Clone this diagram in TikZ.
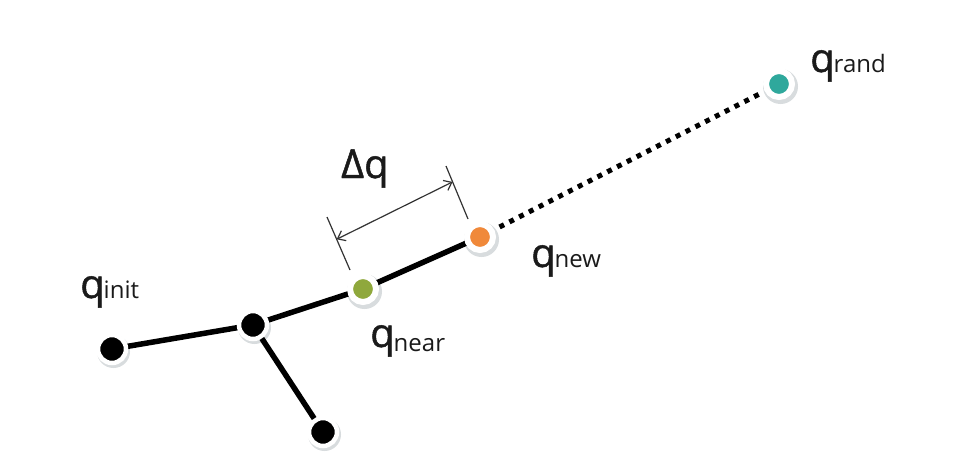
\documentclass[tikz,border=0pt]{standalone}
\usepackage{fontspec}
\setmainfont{Open Sans}
\newfontfamily\qfont{Open Sans}[FakeBold=1.2]
\usetikzlibrary{arrows.meta,calc}
\definecolor{cgreen}{HTML}{8FA83C}
\definecolor{corange}{HTML}{F0893A}
\definecolor{cteal}{HTML}{2FA89C}
\definecolor{shadowc}{HTML}{D8DCDE}
\definecolor{ink}{HTML}{1A1A1A}
\tikzset{
  vtx/.style={circle, draw=white, line width=4.5pt, minimum size=28pt, inner sep=0pt},
  cvtx/.style={circle, draw=white, line width=6pt, minimum size=26pt, inner sep=0pt},
  edge/.style={line width=5.5pt, black},
  lbl/.style={anchor=base west, inner sep=0pt, text=ink, font=\qfont\fontsize{40}{40}\selectfont},
  ext/.style={line width=1.2pt, black!80},
}
\newcommand{\shad}[2]{\fill[shadowc] (#1) ++(1.5,2.5) circle (#2);}
\newcommand{\subtxt}[1]{{\normalfont\fontsize{24}{24}\selectfont #1}}
\begin{document}
\begin{tikzpicture}[x=1pt,y=-1pt]
\useasboundingbox (0,0) rectangle (953,471);
\fill[white] (0,0) rectangle (953,471);
% coordinates
\coordinate (pinit) at (112,349);
\coordinate (pbr) at (253,325);
\coordinate (pbot) at (323,432);
\coordinate (pnear) at (363,289);
\coordinate (pnew) at (480,237);
\coordinate (prand) at (779,84);
% shadows
\shad{pinit}{16.5}
\shad{pbr}{16.5}
\shad{pbot}{16.5}
\shad{pnear}{17.5}
\shad{pnew}{17.5}
\shad{prand}{17.5}
% edges
\draw[edge] (pinit) -- (pbr);
\draw[edge] (pbr) -- (pbot);
\draw[edge] (pbr) -- (pnear);
\draw[edge] (pnear) -- (pnew);
\draw[line width=5pt, dash pattern=on 5pt off 6pt] ($(pnew)!22pt!(prand)$) -- ($(prand)!18pt!(pnew)$);
% nodes
\node[vtx, fill=black] (init) at (pinit) {};
\node[vtx, fill=black] (br) at (pbr) {};
\node[vtx, fill=black] (bot) at (pbot) {};
\node[cvtx, fill=cgreen] (near) at (pnear) {};
\node[cvtx, fill=corange] (new) at (pnew) {};
\node[cvtx, fill=cteal] (rand) at (prand) {};
% labels
\node[lbl] (linit) at (80,298) {q\hspace{-1pt}\subtxt{init}};
\node[lbl] (lnear) at (370,347) {q\hspace{-1pt}\raisebox{-4pt}{\subtxt{near}}};
\node[lbl] (lnew) at (531,267) {q\hspace{-1pt}\subtxt{new}};
\node[lbl] (lrand) at (810,72) {q\hspace{-1pt}\subtxt{rand}};
\node[lbl] (ldq) at (341,178) {Δq};
% dimension
\coordinate (e1a) at (327,217);
\coordinate (e1b) at (350,270);
\coordinate (e2a) at (446,166);
\coordinate (e2b) at (468,219);
\draw[ext] (e1a) -- (e1b);
\draw[ext] (e2a) -- (e2b);
\draw[ext, {Straight Barb[length=7pt,width=11pt]}-{Straight Barb[length=7pt,width=11pt]}] ($(e1a)!0.42!(e1b)$) -- ($(e2a)!0.3!(e2b)$);
\end{tikzpicture}
\end{document}
